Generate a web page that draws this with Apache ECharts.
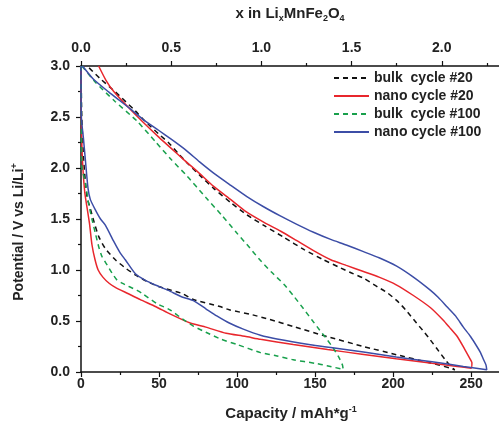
<!DOCTYPE html>
<html>
<head>
<meta charset="utf-8">
<script src="https://cdn.jsdelivr.net/npm/echarts@6/dist/echarts.min.js"></script>
<style>
  html, body { margin: 0; padding: 0; background: #fff; }
  #chart { width: 499px; height: 427px; }
</style>
</head>
<body>
<div id="chart"></div>
<script>
// series names (legend order)
var seriesNames = ['bulk  cycle #20', 'nano cycle #20', 'bulk  cycle #100', 'nano cycle #100']

// [capacity mAh/g, potential V], discharge then charge
var bulk20 = [
  [0, 3.0], [0.5, 2.5], [1.7, 2.08], [3.8, 1.72], [6, 1.6], [8, 1.49], [11.3, 1.33], [15.6, 1.21],
  [22, 1.10], [28.4, 1.02], [34.8, 0.952], [42, 0.89], [49.7, 0.838], [64.7, 0.77], [72, 0.71],
  [89, 0.642], [95, 0.61], [110, 0.56], [121, 0.515], [136, 0.446], [157.6, 0.348], [181, 0.25],
  [202, 0.17], [224, 0.088], [236.6, 0.039], [239.5, 0.02],
  [237, 0.055], [233.4, 0.12], [228, 0.23], [223.8, 0.316], [220, 0.39], [215, 0.48], [208, 0.61],
  [202.4, 0.70], [196, 0.78], [190, 0.835], [181, 0.92], [172, 0.98], [165, 1.03], [155.4, 1.10],
  [143, 1.2], [130, 1.32], [118, 1.43], [106.3, 1.54], [96, 1.66], [85, 1.8], [76, 1.93],
  [68, 2.05], [62.5, 2.14], [56, 2.25], [50, 2.33], [41, 2.46], [34.8, 2.56], [22, 2.746],
  [12, 2.88], [4, 3.0]
]
var nano20 = [
  [0, 3.0], [0.2, 2.5], [0.6, 2.2], [1.2, 2.0], [2.5, 1.75], [4, 1.6], [5.5, 1.45], [7, 1.25],
  [9, 1.1], [11, 1.0], [14, 0.93], [18, 0.87], [22, 0.83], [30, 0.77], [38, 0.71], [48, 0.64],
  [57, 0.57], [70, 0.48], [80, 0.44], [93, 0.38], [105, 0.35], [115, 0.32], [136, 0.27],
  [158, 0.22], [180, 0.175], [202, 0.13], [225, 0.085], [240, 0.057], [250, 0.037],
  [250.5, 0.09], [248.5, 0.15], [246, 0.22], [241, 0.35], [236, 0.44], [232, 0.51], [224, 0.63],
  [213, 0.75], [202, 0.855], [191, 0.93], [181, 0.985], [170, 1.045], [160, 1.10], [149, 1.19],
  [138, 1.29], [128, 1.38], [117, 1.47], [106, 1.57], [96, 1.69], [85, 1.82], [75, 1.96],
  [66, 2.08], [58, 2.19], [50, 2.3], [39, 2.46], [30, 2.6], [21, 2.75], [16, 2.86], [11.3, 3.0]
]
var bulk100 = [
  [0, 3.0], [0.3, 2.4], [0.6, 2.01], [2.8, 1.85], [4.9, 1.65], [7, 1.5], [9.2, 1.36], [11.5, 1.22],
  [13.5, 1.13], [16.7, 1.05], [19.9, 0.969], [23, 0.903], [26.3, 0.871], [35.9, 0.8], [39, 0.773],
  [48.7, 0.67], [57, 0.61], [65, 0.52], [72, 0.45], [80, 0.39], [90, 0.32], [100, 0.27],
  [115, 0.19], [125, 0.16], [136, 0.12], [150, 0.085], [157.6, 0.062], [168, 0.025],
  [167.5, 0.07], [165, 0.15], [161.8, 0.23], [157.6, 0.32], [153, 0.41], [148, 0.51],
  [142.6, 0.62], [136, 0.75], [130, 0.86], [122, 0.98], [114, 1.11], [108, 1.22], [100, 1.36],
  [90, 1.54], [80, 1.71], [68, 1.92], [58, 2.08], [47.6, 2.26], [35.9, 2.46], [22, 2.65],
  [9.2, 2.84], [0.6, 3.0]
]
var nano100 = [
  [0, 3.0], [0.2, 2.5], [1.5, 2.3], [2.8, 2.08], [4.5, 1.8], [6, 1.69], [9.2, 1.59], [12.5, 1.5],
  [15.6, 1.44], [21, 1.28], [25, 1.17], [28.4, 1.10], [35, 0.96], [41, 0.9], [48, 0.85], [56, 0.8],
  [64, 0.74], [72, 0.70], [80, 0.62], [87, 0.55], [95, 0.48], [104, 0.42], [115, 0.36],
  [125.6, 0.323], [147, 0.267], [160, 0.24], [181, 0.195], [202, 0.147], [225, 0.1], [245, 0.055],
  [260, 0.022],
  [259.5, 0.07], [258, 0.12], [256, 0.19], [253.7, 0.25], [249.5, 0.35], [245, 0.44], [240, 0.55],
  [234.5, 0.64], [229, 0.73], [224, 0.80], [213, 0.93], [202, 1.04], [191, 1.12], [181, 1.18],
  [170, 1.245], [160, 1.30], [149, 1.37], [138, 1.45], [127.7, 1.53], [117, 1.62], [106.3, 1.72],
  [96, 1.83], [85, 1.95], [76, 2.06], [66.8, 2.18], [58, 2.28], [49.7, 2.37], [39, 2.485],
  [31.6, 2.58], [24, 2.67], [17.7, 2.746], [8, 2.87], [1, 3.0]
]

var font = "'Liberation Sans', Arial, sans-serif"
var chart = echarts.init(document.getElementById('chart'))

function labelStyle(margin, fmt) {
  var s = { fontSize: 14, fontWeight: 'bold', color: '#222', fontFamily: font, margin: margin }
  if (fmt) s.formatter = function (v) { return v.toFixed(1) }
  return s
}

function axisStyle(extra) {
  return Object.assign({
    type: 'value',
    splitLine: { show: false },
    axisLine: { show: true, lineStyle: { color: '#111', width: 1.5 } },
    axisTick: { show: true, inside: false, length: 5, lineStyle: { color: '#111', width: 1.2 } },
    minorTick: { show: true, splitNumber: 2, length: 3, lineStyle: { color: '#111', width: 1.2 } }
  }, extra)
}

function lineSeries(name, data, color, dashed) {
  return {
    name: name,
    type: 'line',
    xAxisIndex: 0,
    data: data,
    symbol: 'none',
    smooth: 0.2,
    lineStyle: { color: color, width: 1.5, type: dashed ? [5, 4] : 'solid' },
    itemStyle: { color: color }
  }
}

var rich = {
  n: { fontSize: 14, fontWeight: 'bold', fontFamily: font, fill: '#222', lineHeight: 17 },
  b: { fontSize: 15, fontWeight: 'bold', fontFamily: font, fill: '#222', lineHeight: 18 },
  sub: { fontSize: 9, fontWeight: 'bold', fontFamily: font, fill: '#222', lineHeight: 9, verticalAlign: 'bottom' },
  sup: { fontSize: 9, fontWeight: 'bold', fontFamily: font, fill: '#222', lineHeight: 9, verticalAlign: 'top' }
}

chart.setOption({
  animation: false,
  backgroundColor: '#fff',
  grid: { left: 81, right: -33, top: 66, bottom: 55, outerBoundsMode: 'none', containLabel: false },
  xAxis: [
    axisStyle({ position: 'bottom', min: 0, max: 289, interval: 50,
      axisLabel: Object.assign(labelStyle(5, false), { showMaxLabel: false }) }),
    axisStyle({ position: 'top', min: 0, max: 2.5, interval: 0.5,
      axisLabel: Object.assign(labelStyle(11, true), { showMaxLabel: false }) })
  ],
  yAxis: axisStyle({ min: 0, max: 3, interval: 0.5, axisLabel: labelStyle(11, true) }),
  legend: {
    orient: 'vertical',
    left: 328,
    top: 66,
    padding: 5,
    itemWidth: 35,
    itemHeight: 14,
    itemGap: 4,
    data: seriesNames,
    itemStyle: { color: 'transparent', borderColor: 'transparent', borderWidth: 0 },
    textStyle: { fontSize: 14, fontWeight: 'bold', color: '#222', fontFamily: font }
  },
  graphic: [
    { type: 'text', x: 290, y: 14,
      style: { text: '{b|x in Li}{sub|x}{b|MnFe}{sub|2}{b|O}{sub|4}', align: 'center', verticalAlign: 'middle', rich: rich } },
    { type: 'text', x: 19, y: 232, rotation: Math.PI / 2,
      style: { text: '{n|Potential / V vs Li/Li}{sup|+}', align: 'center', verticalAlign: 'middle', rich: rich } },
    { type: 'text', x: 291, y: 414,
      style: { text: '{b|Capacity / mAh*g}{sup|-1}', align: 'center', verticalAlign: 'middle', rich: rich } }
  ],
  series: [
    lineSeries(seriesNames[0], bulk20, '#111111', true),
    lineSeries(seriesNames[1], nano20, '#e8262c', false),
    lineSeries(seriesNames[2], bulk100, '#18a04c', true),
    lineSeries(seriesNames[3], nano100, '#3c4da6', false)
  ]
})
</script>
</body>
</html>
